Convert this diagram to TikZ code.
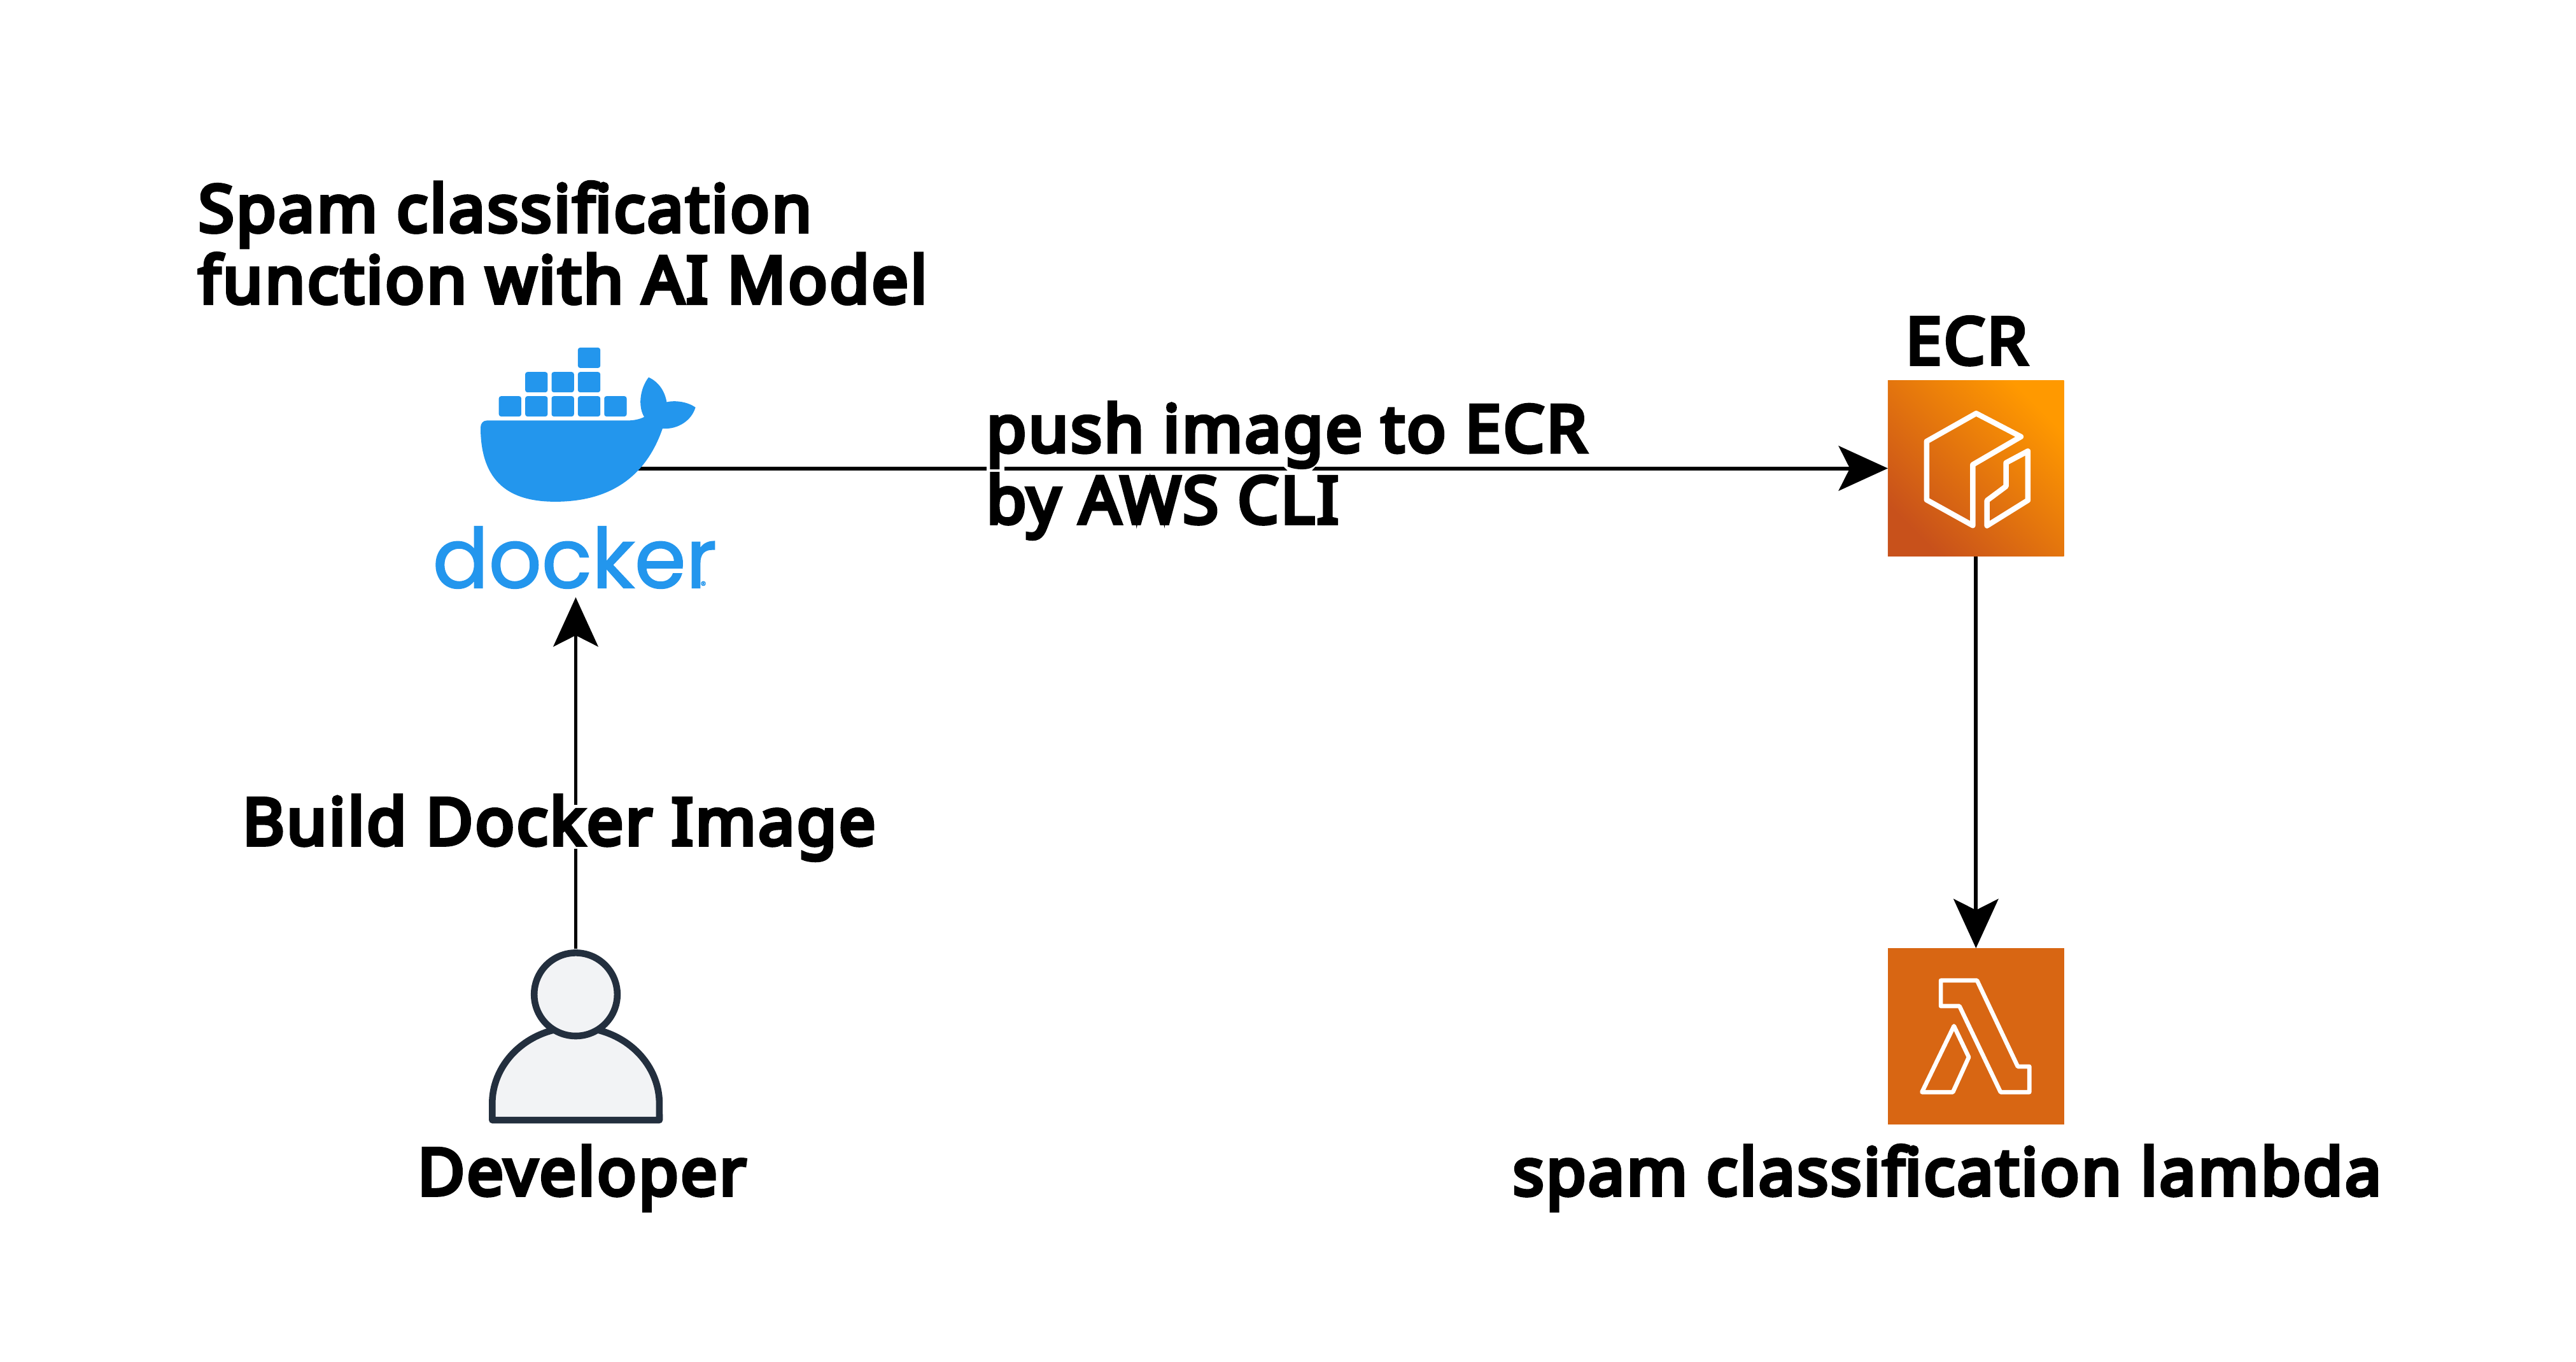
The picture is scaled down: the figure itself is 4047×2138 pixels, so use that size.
\documentclass[tikz,border=0pt]{standalone}
\usepackage{fontspec}
\setmainfont{Noto Sans}
\newfontfamily\lblfont[FakeBold=6,LetterSpace=3.3]{Noto Sans}
\newfontfamily\logofont[FakeBold=1.5]{Poppins}
\usetikzlibrary{arrows.meta}
\definecolor{dockblue}{HTML}{2396ED}
\definecolor{lamb}{HTML}{D86613}
\definecolor{ecrA}{HTML}{C8511B}
\definecolor{ecrB}{HTML}{FF9900}
\definecolor{ink}{HTML}{232F3E}
\definecolor{paper}{HTML}{F2F3F5}
\tikzset{
 x=0.01cm,y=-0.01cm,
 lbl/.style={font=\lblfont\fontsize{29}{31.9}\selectfont,align=left,inner sep=0pt,text=black,anchor=base west},
 conn/.style={draw=black,line width=1.7pt,-{Stealth[length=22pt,width=20pt,inset=5pt]}},
 crate/.style={fill=dockblue,rounded corners=1pt},
 iconline/.style={draw=white,line join=round,line cap=round},
 tile/.style={inner sep=0pt,minimum size=7.85cm*0.9955/2.84,draw=none},
}
\begin{document}
\begin{tikzpicture}
\useasboundingbox (0,0) rectangle (4047,2138);
\fill[white] (0,0) rectangle (4047,2138);
% anchors
\coordinate (whaleEdge) at (1000,735.5);
\coordinate (dockerFoot) at (904.5,938);
\node[tile] (ecr) at (3104.3,735.5) {};
\node[tile] (lam) at (3104.3,1627.5) {};
\node[circle,inner sep=0pt,minimum size=1.413cm] (head) at (904.5,1561.7) {};
% connectors
\draw[conn] (whaleEdge) -- (ecr.west);
\draw[conn] (head.north) -- (dockerFoot);
\draw[conn] (ecr.south) -- (lam.north);
% gaps left by the label halos
\fill[white] (1549.7,729) rectangle (1577.8,742);
\fill[white] (2015,731) -- (2068,731) -- (2060,740) -- (2024,740) -- cycle;
\fill[white] (894,1264) rectangle (915,1333);
% docker whale
\begin{scope}[shift={(650,500)},x=0.003827cm,y=-0.003333cm]
 \foreach \xa/\ya in {673/138,457/253,565/253,673/253,349/367,457/367,565/367,673/367,781/367}
   \fill[crate] (\xa,\ya) rectangle (\xa+92,\ya+96);
 \fill[dockblue] (300,482) -- (875,482) .. controls (900,482) and (925,477) .. (945,465)
  .. controls (920,420) and (925,335) .. (963,278)
  .. controls (1005,300) and (1030,345) .. (1037,395)
  .. controls (1075,385) and (1125,395) .. (1155,420)
  .. controls (1140,480) and (1085,525) .. (1020,520)
  .. controls (960,720) and (830,865) .. (580,865)
  .. controls (420,865) and (274,800) .. (274,515)
  .. controls (274,495) and (285,482) .. (300,482) -- cycle;
\end{scope}
\node[inner sep=0pt,anchor=base west,text=dockblue,font=\logofont\fontsize{37}{38}\selectfont] (dockerWord) at (679,923) {docker};
\node[inner sep=0pt,anchor=center,text=dockblue,font=\logofont\fontsize{5}{5}\selectfont] (dockerMark) at (1105,919) {®};
% ECR tile
\shade[bottom color=ecrA,top color=ecrB,shading angle=-45] (ecr.south west) rectangle (ecr.north east);
\begin{scope}[shift={(2900,560)},x=0.003333cm,y=-0.003333cm]
 \draw[iconline,line width=2.4pt] (826,378) -- (615,268) -- (381,400) -- (381,676) -- (599,797) -- (599,510) -- cycle;
 \draw[iconline,line width=2.4pt] (859,446) -- (756,501) -- (756,612) -- (666,679) -- (666,798) -- (859,678) -- cycle;
\end{scope}
% Lambda tile
\fill[lamb] (lam.south west) rectangle (lam.north east);
\begin{scope}[shift={(2900,1400)},x=0.003333cm,y=-0.003333cm]
 \draw[iconline,line width=1.9pt] (448,420) -- (619,420) -- (811,826) -- (866,826) -- (866,947) -- (730,947) -- (536,541) -- (448,541) -- cycle;
 \draw[iconline,line width=1.9pt] (510,635) -- (580,782) -- (505,947) -- (359,947) -- cycle;
\end{scope}
% developer
\filldraw[fill=paper,draw=ink,line width=3pt,line join=round] (773.3,1759) -- (773.3,1733.3)
  arc[start angle=180,end angle=0,x radius=131.3,y radius=-120] -- (1036,1759) -- cycle;
\filldraw[fill=paper,draw=ink,line width=3pt] (head.center) circle[radius=65.3];
% labels
\node[lbl] (titleLabel) at (311,476) {Spam classification\\function with AI Model};
\node[lbl] (pushLabel) at (1549,821.7) {push image to ECR\\by AWS CLI};
\node[lbl] (buildLabel) at (380,1326.7) {Build Docker Image};
\node[lbl] (devLabel) at (655,1876.7) {Developer};
\node[lbl] (ecrLabel) at (2993,571.7) {ECR};
\node[lbl] (lamLabel) at (2376,1876.7) {spam classification lambda};
\end{tikzpicture}
\end{document}
